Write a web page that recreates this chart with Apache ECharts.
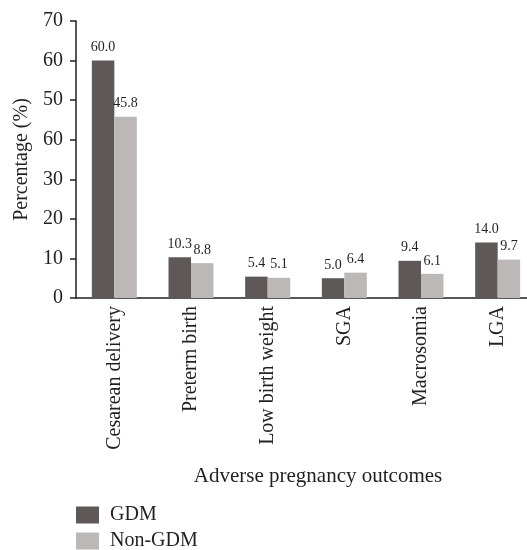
<!DOCTYPE html>
<html lang="en">
<head>
  <meta charset="UTF-8">
  <title>Adverse pregnancy outcomes</title>
  <script src="https://cdn.jsdelivr.net/npm/echarts@6/dist/echarts.min.js"></script>
  <style>
    html, body { margin: 0; background: #fff; overflow: hidden; }
  </style>
</head>
<body>
  <!-- a little larger than the window: the last bar group runs past the right edge,
       and the vertical legend needs room below -->
  <div id="main" style="width: 536px;height:590px;"></div>
  <script>
    // data
    var categories = ['Cesarean delivery', 'Preterm birth', 'Low birth weight', 'SGA', 'Macrosomia', 'LGA'];
    var gdmValues = [60.0, 10.3, 5.4, 5.0, 9.4, 14.0];
    var nonGdmValues = [45.8, 8.8, 5.1, 6.4, 6.1, 9.7];
    // tick labels as printed in the figure (bottom to top)
    var yTickLabels = ['0', '10', '20', '30', '60', '50', '60', '70'];

    var serif = '"Liberation Serif", "DejaVu Serif", serif';
    var ink = '#231f20';
    var myChart = echarts.init(document.getElementById('main'));

    var option = {
      animation: false,
      textStyle: { fontFamily: serif, color: ink },
      grid: { left: 76, right: 0, top: 21, height: 277, containLabel: false },
      legend: {
        orient: 'vertical',
        left: 76,
        top: 505,
        padding: 0,
        itemWidth: 23,
        itemHeight: 17,
        itemGap: 6,
        icon: 'rect',
        textStyle: { fontFamily: serif, fontSize: 20, lineHeight: 17, color: ink, padding: [0, 0, 0, 6] },
        data: ['GDM', 'Non-GDM']
      },
      xAxis: {
        type: 'category',
        data: categories,
        name: 'Adverse pregnancy outcomes',
        nameLocation: 'middle',
        nameGap: 168,
        nameTextStyle: { fontFamily: serif, fontSize: 21, color: ink, padding: [0, 0, 0, 24] },
        axisLine: { lineStyle: { color: ink, width: 1.5 } },
        axisTick: { show: false },
        axisLabel: { rotate: 90, margin: 8, fontFamily: serif, fontSize: 20, color: ink }
      },
      yAxis: {
        type: 'value',
        min: 0,
        max: 70,
        interval: 10,
        name: 'Percentage (%)',
        nameLocation: 'middle',
        nameGap: 43,
        nameTextStyle: { fontFamily: serif, fontSize: 20, color: ink },
        axisLine: { show: true, lineStyle: { color: ink, width: 1.5 } },
        axisTick: { show: true, length: 6, lineStyle: { color: ink, width: 1.5 } },
        splitLine: { show: false },
        axisLabel: {
          margin: 13,
          fontFamily: serif,
          fontSize: 20,
          color: ink,
          formatter: function (v) { return yTickLabels[Math.round(v / 10)]; }
        }
      },
      series: [
        {
          name: 'GDM',
          type: 'bar',
          data: gdmValues,
          barWidth: 22.5,
          barGap: '0%',
          itemStyle: { color: '#5e5958' },
          label: {
            show: true, position: 'top', distance: 6,
            fontFamily: serif, fontSize: 14, color: ink,
            formatter: function (p) { return p.value.toFixed(1); }
          }
        },
        {
          name: 'Non-GDM',
          type: 'bar',
          data: nonGdmValues,
          barWidth: 22.5,
          itemStyle: { color: '#bcb8b7' },
          label: {
            show: true, position: 'top', distance: 6,
            fontFamily: serif, fontSize: 14, color: ink,
            formatter: function (p) { return p.value.toFixed(1); }
          }
        }
      ]
    };

    myChart.setOption(option);
  </script>
</body>
</html>
